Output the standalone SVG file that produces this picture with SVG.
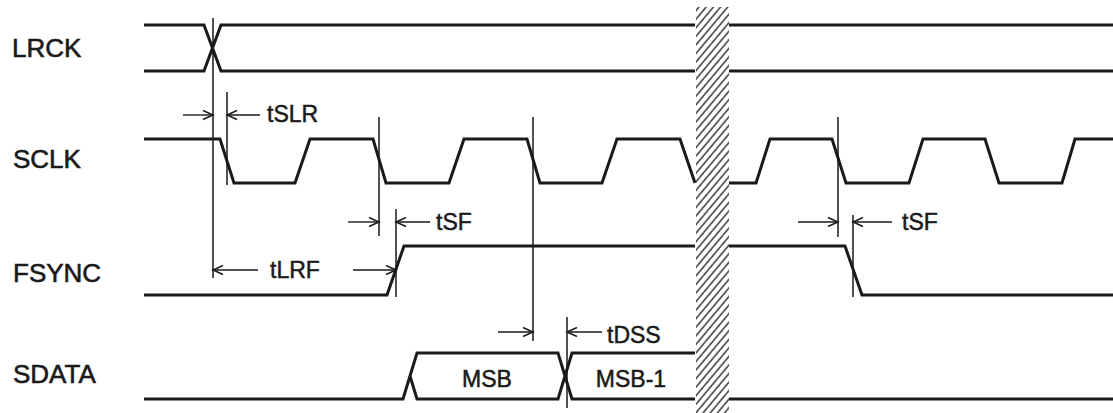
<svg xmlns="http://www.w3.org/2000/svg" width="1113" height="413" viewBox="0 0 1113 413">
<style>
.sig{fill:none;stroke:#1a1a1a;stroke-width:3;stroke-linejoin:miter}
.ref{fill:none;stroke:#1a1a1a;stroke-width:1.5}
.dim{fill:none;stroke:#1a1a1a;stroke-width:1.4;marker-end:url(#ah)}
.name{font-family:"Liberation Sans",Arial,sans-serif;font-size:26px;fill:#1a1a1a;stroke:#1a1a1a;stroke-width:0.6}
.lbl{font-family:"Liberation Sans",Arial,sans-serif;font-size:23px;fill:#1a1a1a;stroke:#1a1a1a;stroke-width:0.5}
</style>
<defs>
<marker id="ah" markerUnits="userSpaceOnUse" markerWidth="14" markerHeight="12" refX="11" refY="6" orient="auto">
<path d="M1,1.5 L11,6 L1,10.5" fill="none" stroke="#1a1a1a" stroke-width="1.5"/>
</marker>
<pattern id="hatch" patternUnits="userSpaceOnUse" width="5.5" height="20" patternTransform="rotate(40)">
<line x1="1" y1="0" x2="1" y2="20" stroke="#1a1a1a" stroke-width="1.3"/>
</pattern>
<clipPath id="band"><rect x="696" y="7" width="33" height="406"/></clipPath>
</defs>
<rect width="1113" height="413" fill="#fff"/>
<g id="break">
<rect x="696" y="7" width="33" height="406" fill="url(#hatch)" clip-path="url(#band)"/>
</g>
<g id="LRCK">
<text class="name" x="12" y="57">LRCK</text>
<path class="sig" d="M144,25 L204,25 L221,71 L695,71 M144,71 L204,71 L221,25 L695,25 M729,25 L1113,25 M729,71 L1113,71"/>
</g>
<g id="SCLK">
<text class="name" x="13" y="168">SCLK</text>
<path class="sig" d="M144,139 L220,139 L234,183 L295,183 L310,139 L373,139 L386,183 L449,183 L464,139 L527,139 L540,183 L602,183 L617,139 L680,139 L695,183 M729,183 L756,183 L770,139 L832,139 L846,183 L909,183 L923,139 L985,139 L999,183 L1062,183 L1075,139 L1113,139"/>
</g>
<g id="FSYNC">
<text class="name" x="13" y="282">FSYNC</text>
<path class="sig" d="M144,295 L387,295 L404,246 L695,246 M729,246 L845,246 L862,295 L1113,295"/>
</g>
<g id="SDATA">
<text class="name" x="13" y="383">SDATA</text>
<path class="sig" d="M144,399 L403,399 L417,353 L558,353 L572,399 L695,399 M410,376 L417,399 L558,399 L572,353 L695,353 M729,399 L1113,399"/>
<text class="lbl" x="487" y="387" text-anchor="middle">MSB</text>
<text class="lbl" x="631" y="387" text-anchor="middle">MSB-1</text>
</g>
<g id="connectors">
<path class="ref" d="M213,18 V278 M227,92 V185 M379,117 V236 M396,209 V297 M533,117 V341 M567,317 V408 M838,117 V237 M853,215 V297"/>
<line class="dim" x1="183" y1="115" x2="213" y2="115"/>
<line class="dim" x1="260" y1="115" x2="227" y2="115"/>
<line class="dim" x1="348" y1="222" x2="379" y2="222"/>
<line class="dim" x1="430" y1="222" x2="396" y2="222"/>
<line class="dim" x1="258" y1="270" x2="213" y2="270"/>
<line class="dim" x1="353" y1="270" x2="396" y2="270"/>
<line class="dim" x1="498" y1="332" x2="533" y2="332"/>
<line class="dim" x1="602" y1="332" x2="567" y2="332"/>
<line class="dim" x1="798" y1="222" x2="838" y2="222"/>
<line class="dim" x1="892" y1="222" x2="853" y2="222"/>
</g>
<g id="labels">
<text class="lbl" x="267" y="122">tSLR</text>
<text class="lbl" x="436" y="230">tSF</text>
<text class="lbl" x="270" y="278">tLRF</text>
<text class="lbl" x="607" y="343">tDSS</text>
<text class="lbl" x="902" y="230">tSF</text>
</g>
</svg>
